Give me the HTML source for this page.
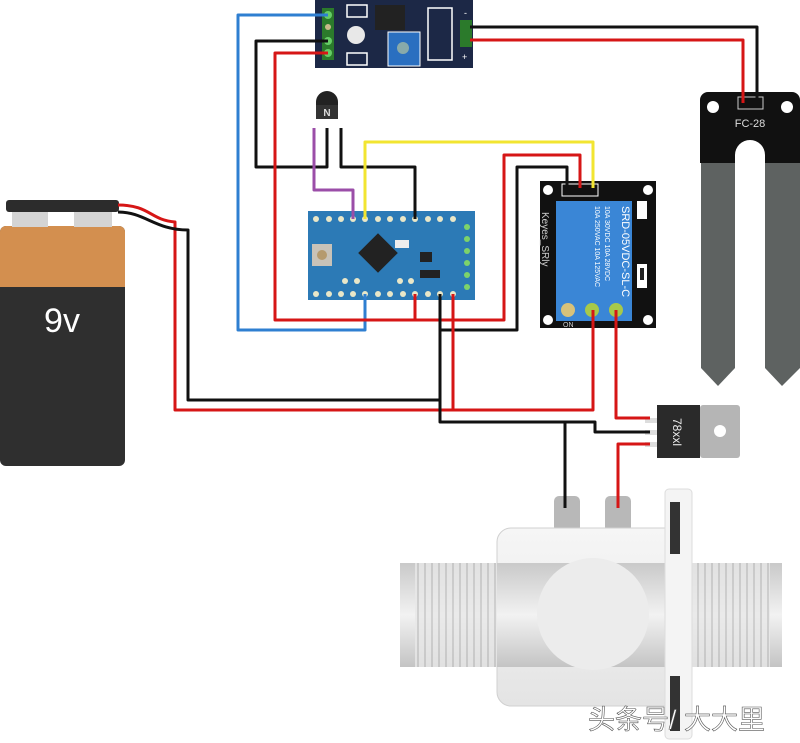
<!DOCTYPE html>
<html><head><meta charset="utf-8"><style>html,body{margin:0;padding:0;background:#fff}svg{display:block}</style></head>
<body>
<svg width="800" height="743" viewBox="0 0 800 743" xmlns="http://www.w3.org/2000/svg" font-family="Liberation Sans, DejaVu Sans, sans-serif">
<defs>
<linearGradient id="pipe" x1="0" y1="0" x2="0" y2="1"><stop offset="0" stop-color="#c9c9c9"/><stop offset="0.5" stop-color="#f2f2f2"/><stop offset="1" stop-color="#c4c4c4"/></linearGradient>
<linearGradient id="body" x1="0" y1="0" x2="0" y2="1"><stop offset="0" stop-color="#f6f6f6"/><stop offset="1" stop-color="#e4e4e4"/></linearGradient>
<pattern id="thr" width="7" height="10" patternUnits="userSpaceOnUse"><rect width="7" height="10" fill="#e8e8e8"/><rect x="4" width="2" height="10" fill="#c8c8c8"/></pattern>
</defs>

<rect x="0" y="226" width="125" height="240" rx="6" fill="#2f2f2f"/>
<path d="M0 232 a6 6 0 0 1 6 -6 h113 a6 6 0 0 1 6 6 v55 h-125z" fill="#d38f4f"/>
<rect x="12" y="210" width="36" height="17" fill="#d4d4d4"/>
<rect x="74" y="210" width="38" height="17" fill="#d4d4d4"/>
<rect x="6" y="200" width="113" height="12" rx="3" fill="#2c2c2c"/>
<text x="62" y="332" font-size="34" fill="#fff" text-anchor="middle">9v</text>

<rect x="315" y="0" width="158" height="68" fill="#1c2846"/>
<rect x="322" y="8" width="12" height="52" fill="#2b7a2b"/>
<circle cx="328" cy="15" r="4" fill="#6c6"/><circle cx="328" cy="27" r="3" fill="#c9b98a"/><circle cx="328" cy="41" r="4" fill="#6c6"/><circle cx="328" cy="53" r="4" fill="#6c6"/>
<circle cx="356" cy="35" r="9" fill="#e8e8e8"/>
<rect x="347" y="5" width="20" height="12" fill="none" stroke="#fff" stroke-width="1.5"/>
<rect x="347" y="53" width="20" height="12" fill="none" stroke="#fff" stroke-width="1.5"/>
<rect x="375" y="5" width="30" height="25" fill="#222"/>
<rect x="388" y="32" width="32" height="34" fill="#2a6fc0" stroke="#fff" stroke-width="1"/>
<circle cx="403" cy="48" r="6" fill="#8aa"/>
<rect x="428" y="8" width="24" height="52" fill="none" stroke="#fff" stroke-width="1.5"/>
<rect x="460" y="20" width="12" height="27" fill="#2b7a2b"/>
<text x="464" y="16" font-size="9" fill="#fff">-</text><text x="462" y="60" font-size="9" fill="#fff">+</text>

<path d="M701 163 h34 v205 l-17 18 l-17 -18z" fill="#5e6261"/>
<path d="M765 163 h35 v205 l-18 18 l-17 -18z" fill="#5e6261"/>
<path d="M700 100 a8 8 0 0 1 8 -8 h84 a8 8 0 0 1 8 8 v63 h-35 v-8 a15 15 0 0 0 -30 0 v8 h-35z" fill="#111"/>
<circle cx="713" cy="107" r="6" fill="#fff"/><circle cx="787" cy="107" r="6" fill="#fff"/>
<rect x="738" y="97" width="25" height="12" fill="none" stroke="#ccc"/>
<text x="750" y="127" font-size="11" fill="#ddd" text-anchor="middle">FC-28</text>

<path d="M316 110 v-8 a11 11 0 0 1 22 0 v8 z" fill="#222"/>
<rect x="316" y="105" width="22" height="14" fill="#333"/>
<text x="327" y="116" font-size="10" fill="#ddd" text-anchor="middle" font-weight="bold">N</text>

<rect x="308" y="211" width="167" height="89" fill="#2c7ab6"/>
<g fill="#e9e7c8">
<circle cx="316" cy="219" r="3"/><circle cx="329" cy="219" r="3"/><circle cx="341" cy="219" r="3"/><circle cx="353" cy="219" r="3"/><circle cx="365" cy="219" r="3"/><circle cx="378" cy="219" r="3"/><circle cx="390" cy="219" r="3"/><circle cx="403" cy="219" r="3"/><circle cx="415" cy="219" r="3"/><circle cx="428" cy="219" r="3"/><circle cx="440" cy="219" r="3"/><circle cx="453" cy="219" r="3"/>
<circle cx="316" cy="294" r="3"/><circle cx="329" cy="294" r="3"/><circle cx="341" cy="294" r="3"/><circle cx="353" cy="294" r="3"/><circle cx="365" cy="294" r="3"/><circle cx="378" cy="294" r="3"/><circle cx="390" cy="294" r="3"/><circle cx="403" cy="294" r="3"/><circle cx="415" cy="294" r="3"/><circle cx="428" cy="294" r="3"/><circle cx="440" cy="294" r="3"/><circle cx="453" cy="294" r="3"/>
<circle cx="345" cy="281" r="3"/><circle cx="357" cy="281" r="3"/><circle cx="400" cy="281" r="3"/><circle cx="411" cy="281" r="3"/>
</g>
<g fill="#7dd36a"><circle cx="467" cy="227" r="3"/><circle cx="467" cy="239" r="3"/><circle cx="467" cy="251" r="3"/><circle cx="467" cy="263" r="3"/><circle cx="467" cy="275" r="3"/><circle cx="467" cy="287" r="3"/></g>
<rect x="312" y="244" width="20" height="22" fill="#c8c2b8"/><circle cx="322" cy="255" r="5" fill="#b59a6e"/>
<rect x="364" y="239" width="28" height="28" fill="#222" transform="rotate(45 378 253)"/>
<rect x="395" y="240" width="14" height="8" fill="#eee"/>
<rect x="420" y="252" width="12" height="10" fill="#222"/><rect x="420" y="270" width="20" height="8" fill="#222"/>

<rect x="540" y="181" width="116" height="147" fill="#111"/>
<circle cx="548" cy="190" r="5" fill="#fff"/><circle cx="648" cy="190" r="5" fill="#fff"/><circle cx="548" cy="320" r="5" fill="#fff"/><circle cx="648" cy="320" r="5" fill="#fff"/>
<rect x="562" y="184" width="36" height="12" fill="none" stroke="#fff"/>
<rect x="556" y="201" width="76" height="96" fill="#3a86d6"/>
<text transform="translate(542,212) rotate(90)" font-size="10" fill="#ccc">Keyes_SRly</text>
<text transform="translate(622,206) rotate(90)" font-size="11" fill="#fff">SRD-05VDC-SL-C</text>
<text transform="translate(595,206) rotate(90)" font-size="7" fill="#fff">10A 250VAC 10A 125VAC</text>
<text transform="translate(605,206) rotate(90)" font-size="7" fill="#fff">10A 30VDC 10A 28VDC</text>
<rect x="637" y="201" width="10" height="18" fill="#fff"/><rect x="637" y="264" width="10" height="24" fill="#fff"/><rect x="640" y="268" width="4" height="12" fill="#222"/>
<rect x="556" y="297" width="76" height="24" fill="#3a86d6"/>
<circle cx="568" cy="310" r="7" fill="#d8c27a"/><circle cx="592" cy="310" r="7" fill="#a7c94a"/><circle cx="616" cy="310" r="7" fill="#a7c94a"/>
<text x="563" y="327" font-size="7" fill="#ccc">ON</text>

<rect x="700" y="405" width="40" height="53" rx="3" fill="#b5b5b5"/>
<circle cx="720" cy="431" r="6" fill="#fff"/>
<rect x="657" y="405" width="43" height="53" fill="#2a2a2a"/>
<rect x="645" y="418" width="12" height="5" fill="#ddd"/><rect x="645" y="430" width="12" height="5" fill="#ddd"/><rect x="645" y="442" width="12" height="5" fill="#ddd"/>
<text transform="translate(673,418) rotate(90)" font-size="12" fill="#eee">78xxl</text>

<rect x="554" y="496" width="26" height="36" rx="5" fill="#b8b8b8"/>
<rect x="605" y="496" width="26" height="36" rx="5" fill="#b8b8b8"/>
<rect x="497" y="528" width="186" height="178" rx="14" fill="url(#body)" stroke="#d0d0d0"/>
<rect x="400" y="563" width="382" height="104" fill="url(#pipe)"/>
<rect x="415" y="563" width="82" height="104" fill="url(#thr)" opacity="0.8"/>
<rect x="690" y="563" width="80" height="104" fill="url(#thr)" opacity="0.8"/>
<circle cx="593" cy="614" r="56" fill="#ececec"/>
<rect x="665" y="489" width="27" height="250" rx="4" fill="#f4f4f4" stroke="#ddd"/>
<rect x="670" y="502" width="10" height="52" fill="#333"/>
<rect x="670" y="676" width="10" height="55" fill="#333"/>
<text x="588" y="729" font-size="27" fill="#fff" stroke="#555" stroke-width="0.6" font-family="Liberation Sans, Noto Sans CJK SC, sans-serif">头条号/ 大大里</text>

<g fill="none" stroke-width="3" stroke-linejoin="round">
<polyline points="328,15 238,15 238,330 365,330 365,294" stroke="#2f7fd1"/>
<polyline points="328,41 256,41 256,167 327,167 327,128" stroke="#111"/>
<polyline points="341,128 341,167 415,167 415,219" stroke="#111"/>
<polyline points="314,128 314,190 353,190 353,219" stroke="#9b4ea8"/>
<polyline points="365,219 365,142 593,142 593,188" stroke="#f2e531"/>
<polyline points="328,53 275,53 275,320 504,320 504,155 580,155 580,188" stroke="#d61616"/>
<polyline points="415,294 415,320" stroke="#d61616"/>
<polyline points="440,294 440,330 517,330 517,167 567,167 567,188" stroke="#111"/>
<polyline points="453,294 453,410 593,410 593,310" stroke="#d61616"/>
<polyline points="616,310 616,418 650,418" stroke="#d61616"/>
<polyline points="470,27 757,27 757,103" stroke="#111"/>
<polyline points="470,40 743,40 743,103" stroke="#d61616"/>
<path d="M118 205 C150 205 150 220 175 222 L175 410 L453 410" stroke="#d61616"/>
<path d="M118 212 C145 212 155 230 188 230 L188 400 L440 400" stroke="#111"/>
<polyline points="440,330 440,422 595,422 595,432 650,432" stroke="#111"/>
<polyline points="565,422 565,508" stroke="#111"/>
<polyline points="650,444 618,444 618,508" stroke="#d61616"/>
</g>
</svg>
</body></html>
